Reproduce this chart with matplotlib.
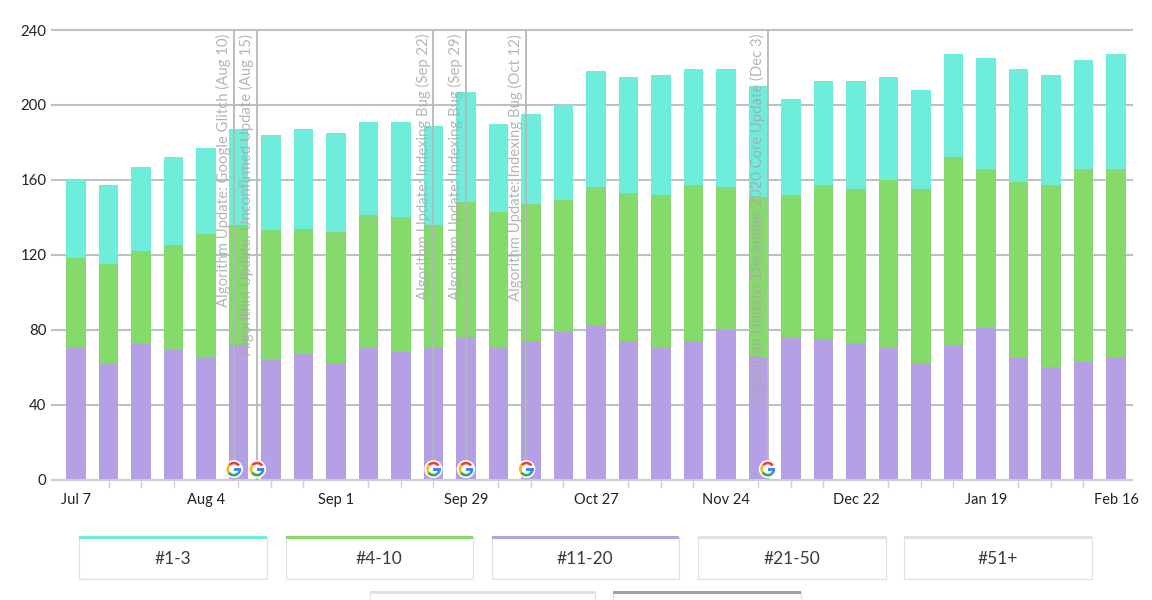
import pandas as pd
import matplotlib
matplotlib.use("Agg")
import matplotlib.pyplot as plt
from matplotlib.offsetbox import AnnotationBbox, DrawingArea
from matplotlib.patches import Circle, Rectangle, Wedge

plt.rcParams["font.family"] = ["Lato", "Open Sans", "DejaVu Sans"]

# Weekly keyword counts per ranking band
weeks = pd.date_range("2020-07-07", periods=33, freq="7D")
rank_11_20 = [71, 62, 73, 69, 65, 72, 64, 67, 62, 70, 68, 71, 76, 71, 74, 79, 82,
              74, 71, 74, 80, 65, 76, 75, 73, 70, 62, 72, 81, 65, 60, 63, 65]
rank_4_10 = [47, 53, 49, 56, 66, 64, 69, 67, 70, 71, 72, 65, 72, 72, 73, 70, 74,
             79, 81, 83, 76, 86, 76, 82, 82, 90, 93, 100, 85, 94, 97, 103, 101]
rank_1_3 = [42, 42, 45, 47, 46, 51, 51, 53, 53, 50, 51, 53, 59, 47, 48, 51, 62,
            62, 64, 62, 63, 59, 51, 56, 58, 55, 53, 55, 59, 60, 59, 58, 61]

y_ticks = [0, 40, 80, 120, 160, 200, 240]
x_tick_labels = ["Jul 7", "Aug 4", "Sep 1", "Sep 29", "Oct 27", "Nov 24",
                 "Dec 22", "Jan 19", "Feb 16"]

update_dates = ["2020-08-10", "2020-08-15", "2020-09-22", "2020-09-29",
                "2020-10-12", "2020-12-03"]
update_labels = [
    "Algorithm Update: Google Glitch (Aug 10)",
    "Algorithm Update: Unconfirmed Update (Aug 15)",
    "Algorithm Update: Indexing Bug (Sep 22)",
    "Algorithm Update: Indexing Bug (Sep 29)",
    "Algorithm Update: Indexing Bug (Oct 12)",
    "Algorithm Update: December 2020 Core Update (Dec 3)",
]

legend_labels = ["#1-3", "#4-10", "#11-20", "#21-50", "#51+"]

TEAL = "#6eeeda"
GREEN = "#85da6c"
PURPLE = "#b5a0e6"
GRID = "#b8c4c4"
BOX = "#dbe4e2"
W, H = 1152, 600


def google_icon(size=13):
    # small round Google badge, built from wedges
    da = DrawingArea(size, size, 0, 0)
    c = size / 2
    da.add_artist(Circle((c, c), c, fc="white", ec="none"))
    r = size * 0.41
    w = size * 0.15
    da.add_artist(Wedge((c, c), r, 35, 140, width=w, fc="#ea4335", ec="none"))
    da.add_artist(Wedge((c, c), r, 140, 215, width=w, fc="#fbbc05", ec="none"))
    da.add_artist(Wedge((c, c), r, 215, 310, width=w, fc="#34a853", ec="none"))
    da.add_artist(Wedge((c, c), r, 310, 360, width=w, fc="#4285f4", ec="none"))
    da.add_artist(Rectangle((c, c - w * 0.6), r, w, fc="#4285f4", ec="none"))
    return da


fig = plt.figure(figsize=(W / 100, H / 100), dpi=100)
ax = fig.add_axes([52 / W, 1 - 479.5 / H, 1080 / W, 449.5 / H])

bottom_2 = list(rank_11_20)
bottom_1 = [a + b for a, b in zip(rank_11_20, rank_4_10)]
bar_width = 4.2  # days
ax.bar(weeks, rank_11_20, width=bar_width, color=PURPLE, zorder=2)
ax.bar(weeks, rank_4_10, width=bar_width, bottom=bottom_2, color=GREEN, zorder=2)
ax.bar(weeks, rank_1_3, width=bar_width, bottom=bottom_1, color=TEAL, zorder=2)

ax.set_ylim(0, 240)
ax.set_yticks(y_ticks)
ax.set_xlim(weeks[0] - pd.Timedelta(days=5.17), weeks[-1] + pd.Timedelta(days=3.45))
ax.set_xticks(weeks[::4])
ax.set_xticklabels(x_tick_labels)
ax.set_xticks(weeks, minor=True)

ax.grid(axis="y", color=GRID, linewidth=1.5, zorder=1, clip_on=False)
ax.tick_params(axis="y", length=0, pad=4, labelsize=10.8, labelcolor="#222222")
ax.tick_params(axis="x", which="major", length=0, pad=10, labelsize=10.5,
               labelcolor="#222222")
ax.tick_params(axis="x", which="minor", length=6, width=1, color="#c8d0d0")
for name, spine in ax.spines.items():
    spine.set_visible(name == "bottom")
ax.spines["bottom"].set_color("#c8d0d0")
ax.spines["bottom"].set_linewidth(1.5)
ax.set_axisbelow(True)

# Google algorithm updates
for date, label in zip(pd.to_datetime(update_dates), update_labels):
    ax.axvline(date, color="#b4b8b8", linewidth=1.3, zorder=3)
    ax.annotate(label, xy=(date, 240), xytext=(-10.5, -4), textcoords="offset pixels",
                rotation=90, ha="center", va="top", fontsize=10.7, color="#a8a8a8",
                alpha=0.85, zorder=4)
    ab = AnnotationBbox(google_icon(), (date, 0), xybox=(0, 7.5),
                        boxcoords="offset points", frameon=False, pad=0,
                        annotation_clip=False, zorder=5)
    ax.add_artist(ab)

# Legend boxes below the plot, in pixel coordinates
over = fig.add_axes([0, 0, 1, 1], facecolor="none")
over.set_xlim(0, W)
over.set_ylim(H, 0)
over.axis("off")


def legend_box(x0, x1, y0, y1, top_color, label=None):
    over.add_patch(Rectangle((x0, y0), x1 - x0, y1 - y0, fc="white", ec=BOX, lw=0.9))
    over.add_patch(Rectangle((x0 - 0.5, y0 - 0.5), x1 - x0 + 1, 3, fc=top_color, ec="none"))
    if label:
        over.text((x0 + x1) / 2, (y0 + y1) / 2 + 1.5, label, ha="center", va="center",
                  fontsize=12.5, color="#3a3a44")


top_row = [(79, 266.5), (286, 472.5), (492, 678.5), (698, 885.5), (904, 1091.5)]
top_colors = [TEAL, GREEN, PURPLE, BOX, BOX]
for (x0, x1), color, label in zip(top_row, top_colors, legend_labels):
    legend_box(x0, x1, 536.5, 578.5, color, label)

legend_box(370, 594.5, 591.5, 620, BOX)
legend_box(613, 800.5, 591.5, 620, "#98a2a0")

fig.savefig("out.png", dpi=100)
